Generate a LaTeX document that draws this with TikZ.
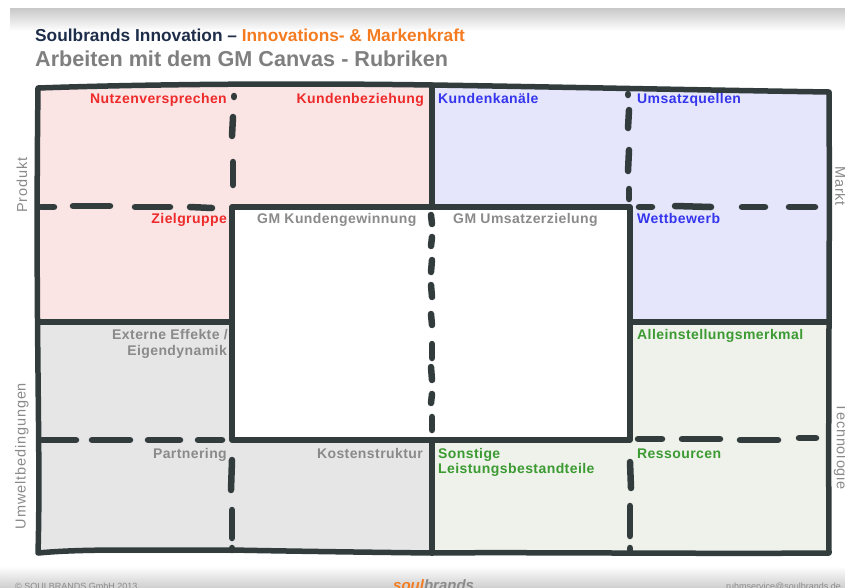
\documentclass[tikz,border=0pt]{standalone}
\usepackage{fontspec}
\setmainfont{Liberation Sans}
\newfontfamily\cellfont[LetterSpace=3]{Liberation Sans}
\newfontfamily\sidefont[LetterSpace=6]{Liberation Sans}

\definecolor{ink}{HTML}{323C3C}
\definecolor{pinkfill}{HTML}{FBE4E4}
\definecolor{lavfill}{HTML}{E5E5FB}
\definecolor{grayfill}{HTML}{E6E6E6}
\definecolor{greenfill}{HTML}{EEF2EA}
\definecolor{lblred}{HTML}{EE2A2A}
\definecolor{lblblue}{HTML}{3535EE}
\definecolor{lblgreen}{HTML}{3C9A32}
\definecolor{lblgray}{HTML}{8A8A8A}
\definecolor{navy}{HTML}{1E2D4A}
\definecolor{brandorange}{HTML}{F47B20}
\definecolor{subgray}{HTML}{7F7F7F}
\definecolor{bandgray}{HTML}{C8C8C8}

\begin{document}
\begin{tikzpicture}[x=1pt,y=-1pt,
  pen/.style={draw=ink,line width=5.5pt,line cap=round,line join=round},
  dashpen/.style={draw=ink,line width=6.5pt,line cap=round},
  cell/.style={inner sep=0pt,font=\cellfont\bfseries\fontsize{14}{16}\selectfont},
  celll/.style={cell,anchor=base west},
  cellr/.style={cell,anchor=base east},
  side/.style={inner sep=0pt,text=lblgray,font=\sidefont\fontsize{14.5}{16}\selectfont},
  foot/.style={inner sep=0pt,text=lblgray,font=\fontsize{9}{10}\selectfont}]
\useasboundingbox (0,0) rectangle (845,587);

% slide background and header/footer bands
\fill[white] (0,0) rectangle (845,587);
\shade[top color=bandgray,bottom color=white] (10,8) rectangle (845,31);
\shade[top color=white,bottom color=bandgray!85] (0,566) rectangle (845,587);

% grid points of the canvas
\coordinate (TL) at (38,88);
\coordinate (TM) at (432,85);
\coordinate (TR) at (829,92);
\coordinate (BL) at (38,553);
\coordinate (BM) at (432,553);
\coordinate (BR) at (829,553);
\coordinate (C1) at (232,207);
\coordinate (C2) at (630,207);
\coordinate (C3) at (630,440);
\coordinate (C4) at (232,440);
\coordinate (M1) at (432,207);
\coordinate (M2) at (432,440);
\coordinate (L1) at (38,322);
\coordinate (L2) at (232,322);
\coordinate (R1) at (630,322);
\coordinate (R2) at (829,322);

% quadrant fills
\fill[pinkfill] (TL) -- (TM) -- (M1) -- (C1) -- (L2) -- (L1) -- cycle;
\fill[lavfill] (TM) -- (TR) -- (R2) -- (R1) -- (C2) -- (M1) -- cycle;
\fill[grayfill] (L1) -- (L2) -- (C4) -- (M2) -- (BM) -- (BL) -- cycle;
\fill[greenfill] (M2) -- (C3) -- (R1) -- (R2) -- (BR) -- (BM) -- cycle;

% outer frame
\draw[pen] (TL) .. controls (150,84) and (300,83) .. (TM)
  .. controls (560,87) and (700,90) .. (TR)
  .. controls (830,250) and (828,400) .. (BR)
  .. controls (700,554) and (520,552) .. (BM)
  .. controls (350,552) and (280,551) .. (232,550)
  .. controls (160,551) and (90,548) .. (BL)
  .. controls (41,450) and (35,330) .. (TL);

% solid inner lines
\draw[pen] (TM) -- (M1);
\draw[pen] (C1) -- (C2) -- (C3) -- (C4) -- cycle;
\draw[pen] (M2) -- (BM);
\draw[pen] (L1) -- (L2);
\draw[pen] (R1) -- (R2);

% hand drawn dashes
\foreach \xa/\ya/\xb/\yb in {
  41/207/54/207, 73/206/110/206, 135/207/170/207, 190/207/212/208,
  234/96/234/97, 233/117/232/136, 233/162/233/185,
  628/94/628/95, 629/110/628/128, 629/150/628/171, 629/189/629/199,
  639/207/652/207, 675/206/711/207, 742/207/765/207, 789/207/815/207,
  431/215/432/224, 432/237/431/246, 432/260/431/272, 431/285/432/297,
  431/314/432/325, 432/344/432/358, 431/367/432/380, 432/394/431/403, 432/417/432/430,
  42/440/76/440, 92/440/130/440, 148/440/180/440, 198/440/222/440,
  232/460/231/490, 232/510/232/538, 232/548/232/550,
  630/462/631/488, 630/506/630/536, 630/548/630/550,
  638/439/662/439, 682/439/720/439, 740/440/778/440, 799/438/816/438}
  \draw[dashpen] (\xa,\ya) -- (\xb,\yb);

% title
\node[inner sep=0pt,anchor=base west,font=\bfseries\fontsize{17.3}{20}\selectfont] (title) at (35,41.5)
  {\textcolor{navy}{Soulbrands Innovation –} \textcolor{brandorange}{Innovations- \& Markenkraft}};
\node[inner sep=0pt,anchor=base west,text=subgray,font=\bfseries\fontsize{21.6}{24}\selectfont] (subtitle) at (35,66.5)
  {Arbeiten mit dem GM Canvas - Rubriken};

% cell labels
\node[cellr,text=lblred] (nutzen) at (227,103.5) {Nutzenversprechen};
\node[cellr,text=lblred] (bezieh) at (424,103.5) {Kundenbeziehung};
\node[celll,text=lblblue] (kanal) at (438,103.5) {Kundenkanäle};
\node[celll,text=lblblue] (umsatz) at (637,103.5) {Umsatzquellen};
\node[cellr,text=lblred] (ziel) at (227,223) {Zielgruppe};
\node[celll,text=lblgray] (gmk) at (257,223) {GM Kundengewinnung};
\node[celll,text=lblgray] (gmu) at (453,223) {GM Umsatzerzielung};
\node[celll,text=lblblue] (wett) at (637,223) {Wettbewerb};
\node[cellr,text=lblgray] (extern) at (228,339) {Externe Effekte /};
\node[cellr,text=lblgray] (eigen) at (227,355) {Eigendynamik};
\node[celll,text=lblgreen] (allein) at (637,339) {Alleinstellungsmerkmal};
\node[cellr,text=lblgray] (partner) at (227,458) {Partnering};
\node[cellr,text=lblgray] (kosten) at (423,458) {Kostenstruktur};
\node[celll,text=lblgreen] (sonst) at (438,458) {Sonstige};
\node[celll,text=lblgreen] (leist) at (438,473.5) {Leistungsbestandteile};
\node[celll,text=lblgreen] (ress) at (637,458) {Ressourcen};

% side labels
\node[side,rotate=90] (produkt) at (22,185) {Produkt};
\node[side,rotate=90] (umwelt) at (22,456) {Umweltbedingungen};
\node[side,rotate=-90] (markt) at (840.5,186) {Markt};
\node[side,rotate=-90] (techno) at (840.5,447) {Technologie};

% footer
\node[foot,anchor=base west] (copy) at (15,589.5) {© SOULBRANDS GmbH 2013};
\node[inner sep=0pt,anchor=base west,font=\bfseries\itshape\fontsize{15}{16}\selectfont] (logo) at (393,590)
  {\textcolor{brandorange}{soul}\textcolor{lblgray}{brands}};
\node[foot,anchor=base west] (mail) at (726,589.5) {ruhmservice@soulbrands.de};
\end{tikzpicture}
\end{document}
